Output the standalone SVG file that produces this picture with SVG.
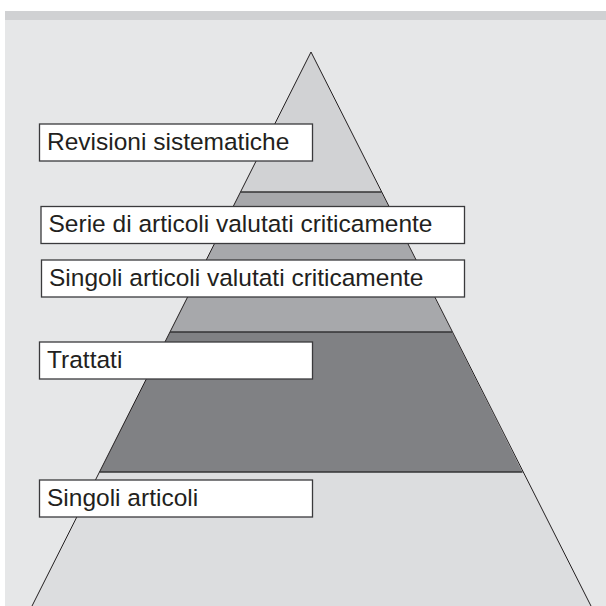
<svg xmlns="http://www.w3.org/2000/svg" width="606" height="606" viewBox="0 0 606 606">
  <style>
    .lbl rect { fill: #ffffff; stroke: #3a3a3c; stroke-width: 1.3; }
    .lbl text { font-family: "Liberation Sans", Arial, sans-serif; font-size: 24.5px; fill: #231f20; }
    .sep { stroke: #333335; stroke-width: 1.5; }
    .edge { fill: none; stroke: #231f20; stroke-width: 1; }
  </style>
  <rect x="0" y="0" width="606" height="606" fill="#ffffff"/>
  <rect x="5" y="11" width="601" height="595" fill="#e6e7e8"/>
  <rect x="5" y="11" width="601" height="9" fill="#d0d1d3"/>

  <g id="pyramid">
    <polygon id="band1" points="311,52 381.5,192 240.5,192" fill="#d1d2d4"/>
    <polygon id="band2" points="240.5,192 381.5,192 452,332 170,332" fill="#a7a8ab"/>
    <polygon id="band3" points="170,332 452,332 522.5,472 99.5,472" fill="#808184"/>
    <polygon id="band4" points="99.5,472 522.5,472 591,606 32,606" fill="#dcdddf"/>
    <polyline class="edge" points="32,606 311,52 591,606"/>
    <line class="sep" x1="240.5" y1="192" x2="381.5" y2="192"/>
    <line class="sep" x1="170" y1="332" x2="452" y2="332"/>
    <line class="sep" x1="99.5" y1="472" x2="522.5" y2="472"/>
  </g>

  <g id="label-revisioni" class="lbl">
    <rect x="39.5" y="124" width="273" height="37"/>
    <text x="47" y="149.5">Revisioni sistematiche</text>
  </g>
  <g id="label-serie" class="lbl">
    <rect x="41" y="206.5" width="423.5" height="37"/>
    <text x="48.5" y="232">Serie di articoli valutati criticamente</text>
  </g>
  <g id="label-singoli-valutati" class="lbl">
    <rect x="41.5" y="260" width="423" height="37"/>
    <text x="49" y="285.5">Singoli articoli valutati criticamente</text>
  </g>
  <g id="label-trattati" class="lbl">
    <rect x="39.5" y="342" width="273" height="37"/>
    <text x="47" y="367.5">Trattati</text>
  </g>
  <g id="label-singoli" class="lbl">
    <rect x="39.5" y="480" width="273" height="37"/>
    <text x="47" y="505.5">Singoli articoli</text>
  </g>
</svg>
